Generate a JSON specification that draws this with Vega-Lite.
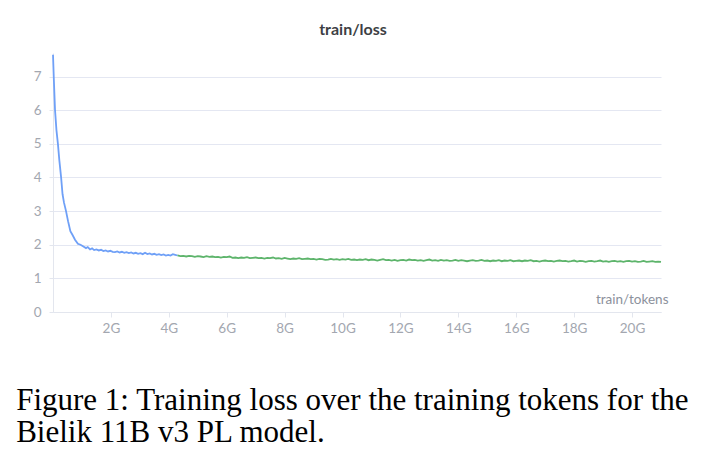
{
  "$schema": "https://vega.github.io/schema/vega-lite/v6.json",
  "padding": {"left": 16, "top": 22, "right": 10, "bottom": 5},
  "background": "white",
  "title": {
    "text": ["Figure 1: Training loss over the training tokens for the", "Bielik 11B v3 PL model."],
    "orient": "bottom",
    "anchor": "start",
    "frame": "bounds",
    "font": "Liberation Serif",
    "fontSize": 31,
    "fontWeight": "normal",
    "color": "#000000",
    "lineHeight": 32,
    "offset": 51,
    "dx": -17
  },
  "config": {
    "view": {"stroke": null},
    "font": "Lato"
  },
  "vconcat": [
    {
      "width": 608,
      "height": 259,
      "title": {
        "text": "train/loss",
        "fontSize": 16,
        "fontWeight": "bold",
        "color": "#3d3f45",
        "offset": 13,
        "dx": -4
      },
      "data": {
        "values": [
          {"t": 0.00, "loss": 7.65, "s": "a"},
          {"t": 0.03, "loss": 6.9, "s": "a"},
          {"t": 0.07, "loss": 6.0, "s": "a"},
          {"t": 0.12, "loss": 5.4, "s": "a"},
          {"t": 0.17, "loss": 5.0, "s": "a"},
          {"t": 0.22, "loss": 4.5, "s": "a"},
          {"t": 0.28, "loss": 4.0, "s": "a"},
          {"t": 0.33, "loss": 3.5, "s": "a"},
          {"t": 0.38, "loss": 3.25, "s": "a"},
          {"t": 0.45, "loss": 3.0, "s": "a"},
          {"t": 0.52, "loss": 2.7, "s": "a"},
          {"t": 0.60, "loss": 2.4, "s": "a"},
          {"t": 0.68, "loss": 2.28, "s": "a"},
          {"t": 0.76, "loss": 2.15, "s": "a"},
          {"t": 0.86, "loss": 2.03, "s": "a"},
          {"t": 0.95, "loss": 2.0, "s": "a"},
          {"t": 1.05, "loss": 1.95, "s": "a"},
          {"t": 1.14, "loss": 1.9, "s": "a"},
          {"t": 1.20, "loss": 1.93, "s": "a"},
          {"t": 1.28, "loss": 1.86, "s": "a"},
          {"t": 1.35, "loss": 1.89, "s": "a"},
          {"t": 1.42, "loss": 1.84, "s": "a"},
          {"t": 1.50, "loss": 1.86, "s": "a"},
          {"t": 1.58, "loss": 1.83, "s": "a"},
          {"t": 1.66, "loss": 1.85, "s": "a"},
          {"t": 1.74, "loss": 1.81, "s": "a"},
          {"t": 1.82, "loss": 1.83, "s": "a"},
          {"t": 1.90, "loss": 1.80, "s": "a"},
          {"t": 1.98, "loss": 1.82, "s": "a"},
          {"t": 2.06, "loss": 1.79, "s": "a"},
          {"t": 2.14, "loss": 1.78, "s": "a"},
          {"t": 2.22, "loss": 1.80, "s": "a"},
          {"t": 2.30, "loss": 1.77, "s": "a"},
          {"t": 2.38, "loss": 1.79, "s": "a"},
          {"t": 2.46, "loss": 1.76, "s": "a"},
          {"t": 2.54, "loss": 1.78, "s": "a"},
          {"t": 2.62, "loss": 1.75, "s": "a"},
          {"t": 2.70, "loss": 1.77, "s": "a"},
          {"t": 2.78, "loss": 1.74, "s": "a"},
          {"t": 2.86, "loss": 1.76, "s": "a"},
          {"t": 2.94, "loss": 1.73, "s": "a"},
          {"t": 3.02, "loss": 1.75, "s": "a"},
          {"t": 3.10, "loss": 1.72, "s": "a"},
          {"t": 3.18, "loss": 1.76, "s": "a"},
          {"t": 3.26, "loss": 1.72, "s": "a"},
          {"t": 3.34, "loss": 1.74, "s": "a"},
          {"t": 3.42, "loss": 1.71, "s": "a"},
          {"t": 3.50, "loss": 1.73, "s": "a"},
          {"t": 3.58, "loss": 1.70, "s": "a"},
          {"t": 3.66, "loss": 1.72, "s": "a"},
          {"t": 3.74, "loss": 1.69, "s": "a"},
          {"t": 3.82, "loss": 1.71, "s": "a"},
          {"t": 3.90, "loss": 1.68, "s": "a"},
          {"t": 3.98, "loss": 1.70, "s": "a"},
          {"t": 4.06, "loss": 1.68, "s": "a"},
          {"t": 4.14, "loss": 1.72, "s": "a"},
          {"t": 4.22, "loss": 1.70, "s": "a"},
          {"t": 4.30, "loss": 1.68, "s": "a"},
          {"t": 4.3, "loss": 1.68, "s": "b"},
          {"t": 4.4, "loss": 1.66, "s": "b"},
          {"t": 4.5, "loss": 1.67, "s": "b"},
          {"t": 4.6, "loss": 1.65, "s": "b"},
          {"t": 4.7, "loss": 1.67, "s": "b"},
          {"t": 4.8, "loss": 1.66, "s": "b"},
          {"t": 4.9, "loss": 1.64, "s": "b"},
          {"t": 5.0, "loss": 1.66, "s": "b"},
          {"t": 5.1, "loss": 1.65, "s": "b"},
          {"t": 5.2, "loss": 1.63, "s": "b"},
          {"t": 5.3, "loss": 1.66, "s": "b"},
          {"t": 5.4, "loss": 1.64, "s": "b"},
          {"t": 5.5, "loss": 1.65, "s": "b"},
          {"t": 5.6, "loss": 1.63, "s": "b"},
          {"t": 5.7, "loss": 1.64, "s": "b"},
          {"t": 5.8, "loss": 1.62, "s": "b"},
          {"t": 5.9, "loss": 1.64, "s": "b"},
          {"t": 6.0, "loss": 1.63, "s": "b"},
          {"t": 6.1, "loss": 1.65, "s": "b"},
          {"t": 6.2, "loss": 1.61, "s": "b"},
          {"t": 6.3, "loss": 1.62, "s": "b"},
          {"t": 6.4, "loss": 1.60, "s": "b"},
          {"t": 6.5, "loss": 1.62, "s": "b"},
          {"t": 6.6, "loss": 1.61, "s": "b"},
          {"t": 6.7, "loss": 1.63, "s": "b"},
          {"t": 6.8, "loss": 1.60, "s": "b"},
          {"t": 6.9, "loss": 1.61, "s": "b"},
          {"t": 7.0, "loss": 1.62, "s": "b"},
          {"t": 7.1, "loss": 1.60, "s": "b"},
          {"t": 7.2, "loss": 1.61, "s": "b"},
          {"t": 7.3, "loss": 1.59, "s": "b"},
          {"t": 7.4, "loss": 1.61, "s": "b"},
          {"t": 7.5, "loss": 1.60, "s": "b"},
          {"t": 7.6, "loss": 1.62, "s": "b"},
          {"t": 7.7, "loss": 1.59, "s": "b"},
          {"t": 7.8, "loss": 1.60, "s": "b"},
          {"t": 7.9, "loss": 1.58, "s": "b"},
          {"t": 8.0, "loss": 1.61, "s": "b"},
          {"t": 8.1, "loss": 1.59, "s": "b"},
          {"t": 8.2, "loss": 1.57, "s": "b"},
          {"t": 8.3, "loss": 1.59, "s": "b"},
          {"t": 8.4, "loss": 1.58, "s": "b"},
          {"t": 8.5, "loss": 1.60, "s": "b"},
          {"t": 8.6, "loss": 1.57, "s": "b"},
          {"t": 8.7, "loss": 1.58, "s": "b"},
          {"t": 8.8, "loss": 1.59, "s": "b"},
          {"t": 8.9, "loss": 1.57, "s": "b"},
          {"t": 9.0, "loss": 1.58, "s": "b"},
          {"t": 9.1, "loss": 1.56, "s": "b"},
          {"t": 9.2, "loss": 1.58, "s": "b"},
          {"t": 9.3, "loss": 1.57, "s": "b"},
          {"t": 9.4, "loss": 1.55, "s": "b"},
          {"t": 9.5, "loss": 1.56, "s": "b"},
          {"t": 9.6, "loss": 1.58, "s": "b"},
          {"t": 9.7, "loss": 1.56, "s": "b"},
          {"t": 9.8, "loss": 1.57, "s": "b"},
          {"t": 9.9, "loss": 1.55, "s": "b"},
          {"t": 10.0, "loss": 1.57, "s": "b"},
          {"t": 10.1, "loss": 1.56, "s": "b"},
          {"t": 10.2, "loss": 1.58, "s": "b"},
          {"t": 10.3, "loss": 1.55, "s": "b"},
          {"t": 10.4, "loss": 1.56, "s": "b"},
          {"t": 10.5, "loss": 1.54, "s": "b"},
          {"t": 10.6, "loss": 1.56, "s": "b"},
          {"t": 10.7, "loss": 1.55, "s": "b"},
          {"t": 10.8, "loss": 1.57, "s": "b"},
          {"t": 10.9, "loss": 1.54, "s": "b"},
          {"t": 11.0, "loss": 1.56, "s": "b"},
          {"t": 11.1, "loss": 1.55, "s": "b"},
          {"t": 11.2, "loss": 1.53, "s": "b"},
          {"t": 11.3, "loss": 1.55, "s": "b"},
          {"t": 11.4, "loss": 1.57, "s": "b"},
          {"t": 11.5, "loss": 1.54, "s": "b"},
          {"t": 11.6, "loss": 1.55, "s": "b"},
          {"t": 11.7, "loss": 1.53, "s": "b"},
          {"t": 11.8, "loss": 1.55, "s": "b"},
          {"t": 11.9, "loss": 1.52, "s": "b"},
          {"t": 12.0, "loss": 1.54, "s": "b"},
          {"t": 12.1, "loss": 1.55, "s": "b"},
          {"t": 12.2, "loss": 1.53, "s": "b"},
          {"t": 12.3, "loss": 1.56, "s": "b"},
          {"t": 12.4, "loss": 1.54, "s": "b"},
          {"t": 12.5, "loss": 1.55, "s": "b"},
          {"t": 12.6, "loss": 1.53, "s": "b"},
          {"t": 12.7, "loss": 1.54, "s": "b"},
          {"t": 12.8, "loss": 1.52, "s": "b"},
          {"t": 12.9, "loss": 1.54, "s": "b"},
          {"t": 13.0, "loss": 1.56, "s": "b"},
          {"t": 13.1, "loss": 1.53, "s": "b"},
          {"t": 13.2, "loss": 1.54, "s": "b"},
          {"t": 13.3, "loss": 1.52, "s": "b"},
          {"t": 13.4, "loss": 1.55, "s": "b"},
          {"t": 13.5, "loss": 1.53, "s": "b"},
          {"t": 13.6, "loss": 1.54, "s": "b"},
          {"t": 13.7, "loss": 1.52, "s": "b"},
          {"t": 13.8, "loss": 1.53, "s": "b"},
          {"t": 13.9, "loss": 1.55, "s": "b"},
          {"t": 14.0, "loss": 1.52, "s": "b"},
          {"t": 14.1, "loss": 1.54, "s": "b"},
          {"t": 14.2, "loss": 1.53, "s": "b"},
          {"t": 14.3, "loss": 1.51, "s": "b"},
          {"t": 14.4, "loss": 1.53, "s": "b"},
          {"t": 14.5, "loss": 1.54, "s": "b"},
          {"t": 14.6, "loss": 1.52, "s": "b"},
          {"t": 14.7, "loss": 1.53, "s": "b"},
          {"t": 14.8, "loss": 1.55, "s": "b"},
          {"t": 14.9, "loss": 1.52, "s": "b"},
          {"t": 15.0, "loss": 1.53, "s": "b"},
          {"t": 15.1, "loss": 1.51, "s": "b"},
          {"t": 15.2, "loss": 1.53, "s": "b"},
          {"t": 15.3, "loss": 1.52, "s": "b"},
          {"t": 15.4, "loss": 1.54, "s": "b"},
          {"t": 15.5, "loss": 1.51, "s": "b"},
          {"t": 15.6, "loss": 1.53, "s": "b"},
          {"t": 15.7, "loss": 1.52, "s": "b"},
          {"t": 15.8, "loss": 1.54, "s": "b"},
          {"t": 15.9, "loss": 1.51, "s": "b"},
          {"t": 16.0, "loss": 1.52, "s": "b"},
          {"t": 16.1, "loss": 1.53, "s": "b"},
          {"t": 16.2, "loss": 1.51, "s": "b"},
          {"t": 16.3, "loss": 1.53, "s": "b"},
          {"t": 16.4, "loss": 1.52, "s": "b"},
          {"t": 16.5, "loss": 1.54, "s": "b"},
          {"t": 16.6, "loss": 1.51, "s": "b"},
          {"t": 16.7, "loss": 1.52, "s": "b"},
          {"t": 16.8, "loss": 1.50, "s": "b"},
          {"t": 16.9, "loss": 1.52, "s": "b"},
          {"t": 17.0, "loss": 1.53, "s": "b"},
          {"t": 17.1, "loss": 1.51, "s": "b"},
          {"t": 17.2, "loss": 1.52, "s": "b"},
          {"t": 17.3, "loss": 1.50, "s": "b"},
          {"t": 17.4, "loss": 1.52, "s": "b"},
          {"t": 17.5, "loss": 1.53, "s": "b"},
          {"t": 17.6, "loss": 1.51, "s": "b"},
          {"t": 17.7, "loss": 1.52, "s": "b"},
          {"t": 17.8, "loss": 1.50, "s": "b"},
          {"t": 17.9, "loss": 1.51, "s": "b"},
          {"t": 18.0, "loss": 1.53, "s": "b"},
          {"t": 18.1, "loss": 1.50, "s": "b"},
          {"t": 18.2, "loss": 1.52, "s": "b"},
          {"t": 18.3, "loss": 1.51, "s": "b"},
          {"t": 18.4, "loss": 1.49, "s": "b"},
          {"t": 18.5, "loss": 1.51, "s": "b"},
          {"t": 18.6, "loss": 1.52, "s": "b"},
          {"t": 18.7, "loss": 1.50, "s": "b"},
          {"t": 18.8, "loss": 1.51, "s": "b"},
          {"t": 18.9, "loss": 1.53, "s": "b"},
          {"t": 19.0, "loss": 1.50, "s": "b"},
          {"t": 19.1, "loss": 1.51, "s": "b"},
          {"t": 19.2, "loss": 1.49, "s": "b"},
          {"t": 19.3, "loss": 1.51, "s": "b"},
          {"t": 19.4, "loss": 1.52, "s": "b"},
          {"t": 19.5, "loss": 1.50, "s": "b"},
          {"t": 19.6, "loss": 1.51, "s": "b"},
          {"t": 19.7, "loss": 1.49, "s": "b"},
          {"t": 19.8, "loss": 1.51, "s": "b"},
          {"t": 19.9, "loss": 1.52, "s": "b"},
          {"t": 20.0, "loss": 1.50, "s": "b"},
          {"t": 20.1, "loss": 1.51, "s": "b"},
          {"t": 20.2, "loss": 1.49, "s": "b"},
          {"t": 20.3, "loss": 1.50, "s": "b"},
          {"t": 20.4, "loss": 1.52, "s": "b"},
          {"t": 20.5, "loss": 1.49, "s": "b"},
          {"t": 20.6, "loss": 1.50, "s": "b"},
          {"t": 20.7, "loss": 1.51, "s": "b"},
          {"t": 20.8, "loss": 1.49, "s": "b"},
          {"t": 20.9, "loss": 1.50, "s": "b"},
          {"t": 21.0, "loss": 1.49, "s": "b"}
        ]
      },
      "mark": {"type": "line", "strokeWidth": 1.8, "interpolate": "linear"},
      "encoding": {
        "x": {
          "field": "t",
          "type": "quantitative",
          "scale": {"domain": [0, 21], "nice": false, "zero": false},
          "axis": {
            "values": [2, 4, 6, 8, 10, 12, 14, 16, 18, 20],
            "labelExpr": "datum.value + 'G'",
            "grid": false,
            "domainColor": "#e3e6ee",
            "tickColor": "#e3e6ee",
            "tickSize": 5,
            "labelColor": "#a3a7b0",
            "labelFontSize": 13.5,
            "labelPadding": 4,
            "title": "train/tokens",
            "titleX": 615,
            "titleY": -13,
            "titleAlign": "right",
            "titleBaseline": "middle",
            "titleFontWeight": "normal",
            "titleFontSize": 13.5,
            "titleColor": "#8c919c"
          }
        },
        "y": {
          "field": "loss",
          "type": "quantitative",
          "scale": {"domain": [0, 7.7], "nice": false},
          "axis": {
            "values": [0, 1, 2, 3, 4, 5, 6, 7],
            "title": null,
            "grid": true,
            "gridColor": "#e4e7f2",
            "domainColor": "#e3e6ee",
            "tickColor": "#e3e6ee",
            "tickSize": 4,
            "labelPadding": 8,
            "labelColor": "#a3a7b0",
            "labelFontSize": 13.5
          }
        },
        "color": {
          "field": "s",
          "type": "nominal",
          "scale": {"domain": ["a", "b"], "range": ["#6fa0f7", "#5db46b"]},
          "legend": null
        }
      }
    }
  ]
}
